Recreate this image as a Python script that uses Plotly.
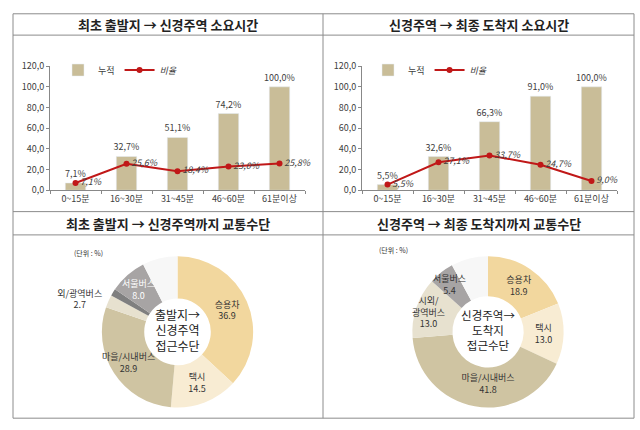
import math
import plotly.graph_objects as go

# ---------------- data ----------------
time_cats = ["0~15분", "16~30분", "31~45분", "46~60분", "61분이상"]
left_cum = [7.1, 32.7, 51.1, 74.2, 100.0]
left_ratio = [7.1, 25.6, 18.4, 23.0, 25.8]
right_cum = [5.5, 32.6, 66.3, 91.0, 100.0]
right_ratio = [5.5, 27.1, 33.7, 24.7, 9.0]
y_ticks = [0, 20, 40, 60, 80, 100, 120]

left_modes = ["승용차", "택시", "마을/시내버스", "외/광역버스", "기타", "서울버스", "무응답"]
left_share = [36.9, 14.5, 28.9, 2.7, 1.5, 8.0, 7.5]
left_pie_colors = ["#F2D79E", "#F8ECD3", "#CFC4A2", "#E7E1CF", "#7F7F7F", "#A7A4A4", "#F7F7F7"]
# "pie" = drawn by the pie itself, "ann" = label placed at the slice's angle, "" = no label
left_label_mode = ["pie", "pie", "ann", "outside", "", "ann", ""]
left_label_col = ["#333333", "#333333", "#333333", "#333333", "#333333", "#FFFFFF", "#333333"]

right_modes = ["승용차", "택시", "마을/시내버스", "시외/<br>광역버스", "서울버스", "기타"]
right_share = [18.9, 13.0, 41.8, 13.0, 5.4, 7.9]
right_pie_colors = ["#F2D79E", "#F8ECD3", "#CFC4A2", "#E7E1CF", "#A7A4A4", "#F7F7F7"]
right_label_mode = ["pie", "pie", "pie", "ann", "ann", ""]
right_label_col = ["#333333"] * 6

titles = ["최초 출발지 → 신경주역 소요시간", "신경주역 → 최종 도착지 소요시간",
          "최초 출발지 → 신경주역까지 교통수단", "신경주역 → 최종 도착지까지 교통수단"]

FONT = "Noto Sans CJK KR"
BAR = "#C9BD98"
RED = "#C01818"
W, H = 640, 430


def px(x):
    return x / W


def py(y):
    return 1 - y / H


fig = go.Figure()


def add_bar_line(cum, ratio, xa, ya, lg):
    fig.add_trace(go.Bar(x=time_cats, y=cum, name="누적", marker_color=BAR, width=0.4,
                         texttemplate="%{y:.1f}%", textposition="outside", cliponaxis=False,
                         constraintext="none",
                         textfont=dict(size=9, color="#404040"), xaxis=xa, yaxis=ya, legend=lg))
    fig.add_trace(go.Scatter(x=time_cats, y=ratio, name="<i>비율</i>", mode="lines+markers+text",
                             line=dict(color=RED, width=2), marker=dict(size=6, color=RED),
                             texttemplate="%{y:.1f}%", textposition="middle right", cliponaxis=False,
                             textfont=dict(size=9, color="#404040", style="italic"),
                             xaxis=xa, yaxis=ya, legend=lg))


add_bar_line(left_cum, left_ratio, "x", "y", "legend")
add_bar_line(right_cum, right_ratio, "x2", "y2", "legend2")

annotations = []


def add_pie(labels, values, colors, modes, cols, hole, center, radius, title, ann_r):
    cx, cy = center
    textpos = []
    for m in modes:
        textpos.append("inside" if m == "pie" else ("outside" if m == "outside" else "none"))
    fig.add_trace(go.Pie(labels=labels, values=values, sort=False, direction="clockwise",
                         hole=hole, marker=dict(colors=colors, line=dict(width=0)),
                         text=[f"{v:.1f}" for v in values], texttemplate="%{label}<br>%{text}",
                         textposition=textpos, insidetextorientation="horizontal",
                         textfont=dict(size=9, color=cols, family=FONT),
                         domain=dict(x=[px(cx - radius), px(cx + radius)],
                                     y=[py(cy + radius), py(cy - radius)]),
                         title=dict(text=title, position="middle center",
                                    font=dict(size=12, color="#222222", family=FONT)),
                         showlegend=False))
    total = sum(values)
    before = 0.0
    for lab, v, m, c in zip(labels, values, modes, cols):
        if m == "ann":
            th = 2 * math.pi * (before + v / 2) / total
            r = radius * ann_r
            x = cx + r * math.sin(th)
            y = cy - r * math.cos(th)
            annotations.append(dict(text=f"{lab}<br>{v:.1f}", x=px(x), y=py(y), xref="paper",
                                    yref="paper", xanchor="center", yanchor="middle",
                                    showarrow=False, font=dict(size=9, color=c, family=FONT)))
        before += v


add_pie(left_modes, left_share, left_pie_colors, left_label_mode, left_label_col, 0.44,
        (177.5, 335), 78, "출발지→<br>신경주역<br>접근수단", 0.75)
add_pie(right_modes, right_share, right_pie_colors, right_label_mode, right_label_col, 0.47,
        (488, 335), 78, "신경주역→<br>도착지<br>접근수단", 0.8)

axis_common = dict(showline=True, linecolor="#888888", linewidth=1, showgrid=False, zeroline=False,
                   ticks="outside", tickcolor="#888888", ticklen=3,
                   tickfont=dict(size=9, color="#404040", family=FONT))
yaxis_common = dict(axis_common, range=[0, 120], tickvals=y_ticks, tickformat=".1f")
xaxis_common = dict(axis_common, tickson="boundaries")

ydom = [py(189), py(61)]
GRAY = dict(color="#8C8C8C", width=1)
shapes = [
    dict(type="rect", xref="paper", yref="paper", x0=px(13), x1=px(634), y0=py(424), y1=py(7), line=GRAY),
    dict(type="line", xref="paper", yref="paper", x0=px(323), x1=px(323), y0=py(424), y1=py(7), line=GRAY),
    dict(type="line", xref="paper", yref="paper", x0=px(13), x1=px(634), y0=py(211), y1=py(211), line=GRAY),
    dict(type="line", xref="paper", yref="paper", x0=px(13), x1=px(634), y0=py(29), y1=py(29), line=GRAY),
    dict(type="line", xref="paper", yref="paper", x0=px(13), x1=px(634), y0=py(235), y1=py(235), line=GRAY),
]

title_pos = [(168, 18), (479, 18), (168, 223), (479, 223)]
for t, (x, y) in zip(titles, title_pos):
    annotations.append(dict(text=f"<b>{t}</b>", x=px(x), y=py(y), xref="paper", yref="paper",
                            xanchor="center", yanchor="middle", showarrow=False,
                            font=dict(size=13, color="#222222", family=FONT)))
for x, y in [(88, 254), (393, 251)]:
    annotations.append(dict(text="(단위 : %)", x=px(x), y=py(y), xref="paper", yref="paper",
                            xanchor="center", yanchor="middle", showarrow=False,
                            font=dict(size=7, color="#333333", family=FONT)))

legend_common = dict(orientation="h", xanchor="left", yanchor="middle", bgcolor="rgba(0,0,0,0)",
                     font=dict(size=9, color="#404040", family=FONT), itemwidth=30,
                     tracegroupgap=0, itemclick=False)

fig.update_layout(
    width=W, height=H, margin=dict(l=0, r=0, t=0, b=0),
    paper_bgcolor="white", plot_bgcolor="white",
    font=dict(family=FONT, color="#333333"),
    separators=",.",
    barmode="overlay",
    xaxis=dict(xaxis_common, domain=[px(50), px(305)], anchor="y"),
    yaxis=dict(yaxis_common, domain=ydom, anchor="x"),
    xaxis2=dict(xaxis_common, domain=[px(362), px(617)], anchor="y2"),
    yaxis2=dict(yaxis_common, domain=ydom, anchor="x2"),
    legend=dict(legend_common, x=px(58), y=py(65)),
    legend2=dict(legend_common, x=px(368), y=py(65)),
    shapes=shapes,
    annotations=annotations,
)

fig.write_html("out.html", config={"displayModeBar": False},
               post_script="document.body.style.margin='0';document.body.style.overflow='hidden';")
